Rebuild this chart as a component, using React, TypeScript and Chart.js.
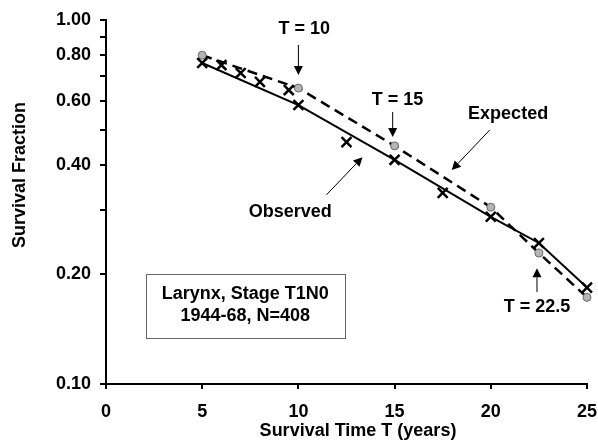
import React, { useEffect, useRef } from 'react';
import { Chart, registerables } from 'chart.js';

Chart.register(...registerables);

// ---- data ----
const observedYears = [5, 10, 15, 20, 22.5, 25];
const observedFraction = [0.762, 0.584, 0.413, 0.288, 0.244, 0.184];
const extraObservedYears = [6, 7, 8, 9.5, 12.5, 17.5];
const extraObservedFraction = [0.752, 0.715, 0.676, 0.642, 0.462, 0.335];
const expectedYears = [5, 10, 15, 20, 22.5, 25];
const expectedFraction = [0.8, 0.65, 0.451, 0.306, 0.229, 0.173];
const xTickValues = [0, 5, 10, 15, 20, 25];
const yTickValues = [0.1, 0.2, 0.3, 0.4, 0.5, 0.6, 0.7, 0.8, 0.9, 1.0];
const yLabelledTicks = [0.1, 0.2, 0.4, 0.6, 0.8, 1.0];

const xTitle = 'Survival Time T (years)';
const yTitle = 'Survival Fraction';
const boxLines = ['Larynx, Stage T1N0', '1944-68, N=408'];

// annotation labels (data coordinates)
const labelTexts = ['T = 10', 'T = 15', 'Expected', 'Observed', 'T = 22.5'];
const labelX = [10.3, 15.15, 20.9, 9.58, 22.4];
const labelY = [0.945, 0.603, 0.552, 0.297, 0.163];
// arrows: from -> to (head at "to")
const arrowFromX = [10, 14.9, 19.95, 11.46, 22.4];
const arrowFromY = [0.854, 0.559, 0.499, 0.331, 0.179];
const arrowToX = [10, 14.9, 17.97, 13.33, 22.4];
const arrowToY = [0.706, 0.477, 0.387, 0.42, 0.208];
// legend box corners (data coordinates)
const boxX = [2.08, 12.4];
const boxY = [0.2005, 0.134];
const boxTextY = [0.177, 0.154];

const FONT = '"Liberation Sans", Arial, Helvetica, sans-serif';

const toPts = (xs: number[], ys: number[]) => xs.map((x, i) => ({ x, y: ys[i] }));

const annotationPlugin = {
  id: 'annotations',
  afterDraw(chart: any) {
    const { ctx, scales } = chart;
    const xs = scales.x;
    const ys = scales.y;
    const px = (v: number) => xs.getPixelForValue(v);
    const py = (v: number) => ys.getPixelForValue(v);
    ctx.save();

    // box
    const bx0 = px(boxX[0]);
    const bx1 = px(boxX[1]);
    const by0 = py(boxY[0]);
    const by1 = py(boxY[1]);
    ctx.fillStyle = '#fff';
    ctx.fillRect(bx0, by0, bx1 - bx0, by1 - by0);
    ctx.strokeStyle = '#666';
    ctx.lineWidth = 1;
    ctx.strokeRect(Math.round(bx0) + 0.5, Math.round(by0) + 0.5, Math.round(bx1 - bx0), Math.round(by1 - by0));
    ctx.fillStyle = '#000';
    ctx.font = 'bold 18px ' + FONT;
    ctx.textAlign = 'center';
    ctx.textBaseline = 'middle';
    boxLines.forEach((t, i) => ctx.fillText(t, (bx0 + bx1) / 2, py(boxTextY[i])));

    // labels
    labelTexts.forEach((t, i) => ctx.fillText(t, px(labelX[i]), py(labelY[i])));

    // arrows
    for (let i = 0; i < arrowFromX.length; i++) {
      const x1 = px(arrowFromX[i]);
      const y1 = py(arrowFromY[i]);
      const x2 = px(arrowToX[i]);
      const y2 = py(arrowToY[i]);
      const ang = Math.atan2(y2 - y1, x2 - x1);
      const headLen = 9;
      const headW = 4.5;
      const bx = x2 - headLen * Math.cos(ang);
      const byy = y2 - headLen * Math.sin(ang);
      ctx.strokeStyle = '#000';
      ctx.lineWidth = 1;
      ctx.beginPath();
      ctx.moveTo(x1, y1);
      ctx.lineTo(bx, byy);
      ctx.stroke();
      ctx.beginPath();
      ctx.moveTo(x2, y2);
      ctx.lineTo(bx + headW * Math.sin(ang), byy - headW * Math.cos(ang));
      ctx.lineTo(bx - headW * Math.sin(ang), byy + headW * Math.cos(ang));
      ctx.closePath();
      ctx.fill();
    }

    // axis titles
    ctx.font = 'bold 18px ' + FONT;
    ctx.fillText(xTitle, 358, 431);
    ctx.translate(20, 175);
    ctx.rotate(-Math.PI / 2);
    ctx.fillText(yTitle, 0, 0);
    ctx.restore();
  },
};

export default function App() {
  const ref = useRef<HTMLCanvasElement>(null);
  useEffect(() => {
    if (!ref.current) return;
    Chart.defaults.font.family = FONT;
    const chart = new Chart(ref.current, {
      type: 'scatter',
      data: {
        datasets: [
          {
            label: 'Expected',
            data: toPts(expectedYears, expectedFraction),
            showLine: true,
            borderColor: '#000',
            borderWidth: 2.5,
            borderDash: [10, 6],
            pointStyle: 'circle',
            pointRadius: 4,
            pointBackgroundColor: '#b5b5b5',
            pointBorderColor: '#666',
            pointBorderWidth: 1,
            order: 2,
          },
          {
            label: 'Observed',
            data: toPts(observedYears, observedFraction),
            showLine: true,
            borderColor: '#000',
            borderWidth: 2,
            pointStyle: 'crossRot',
            pointRadius: 7,
            pointBorderColor: '#000',
            pointBorderWidth: 2.5,
            order: 1,
          },
          {
            label: 'Observed points',
            data: toPts(extraObservedYears, extraObservedFraction),
            showLine: false,
            pointStyle: 'crossRot',
            pointRadius: 7,
            pointBorderColor: '#000',
            pointBorderWidth: 2.5,
            order: 0,
          },
        ],
      },
      options: {
        responsive: false,
        animation: false,
        clip: false,
        layout: { padding: { top: 20, right: 11, bottom: 0, left: 0 } },
        plugins: { legend: { display: false }, tooltip: { enabled: false } },
        scales: {
          x: {
            type: 'linear',
            min: 0,
            max: 25,
            afterBuildTicks: (s: any) => {
              s.ticks = xTickValues.map((v) => ({ value: v }));
            },
            afterFit: (s: any) => {
              s.height = 61;
              s.paddingLeft = 0;
              s.paddingRight = 0;
            },
            ticks: {
              color: '#000',
              font: { size: 18, weight: 'bold' },
              padding: 12,
              maxRotation: 0,
              callback: (v: any) => String(v),
            },
            grid: { drawOnChartArea: false, drawTicks: true, tickLength: 5, color: '#000', lineWidth: 2 },
            border: { display: true, color: '#000', width: 2 },
          },
          y: {
            type: 'logarithmic',
            min: 0.1,
            max: 1,
            afterBuildTicks: (s: any) => {
              s.ticks = yTickValues.map((v) => ({ value: v }));
            },
            afterFit: (s: any) => {
              s.width = 106;
              s.paddingTop = 0;
              s.paddingBottom = 0;
            },
            ticks: {
              color: '#000',
              font: { size: 18, weight: 'bold' },
              padding: 9,
              autoSkip: false,
              callback: (v: any) => (yLabelledTicks.some((t) => Math.abs(t - v) < 1e-6) ? Number(v).toFixed(2) : ''),
            },
            grid: { drawOnChartArea: false, drawTicks: true, tickLength: 6, color: '#000', lineWidth: 2 },
            border: { display: true, color: '#000', width: 2 },
          },
        },
      },
      plugins: [annotationPlugin],
    });
    return () => chart.destroy();
  }, []);
  return (
    <div style={{ position: 'fixed', left: 0, top: 0, width: 598, height: 445, background: '#fff' }}>
      <canvas ref={ref} width={598} height={445} style={{ width: 598, height: 445 }} />
    </div>
  );
}
